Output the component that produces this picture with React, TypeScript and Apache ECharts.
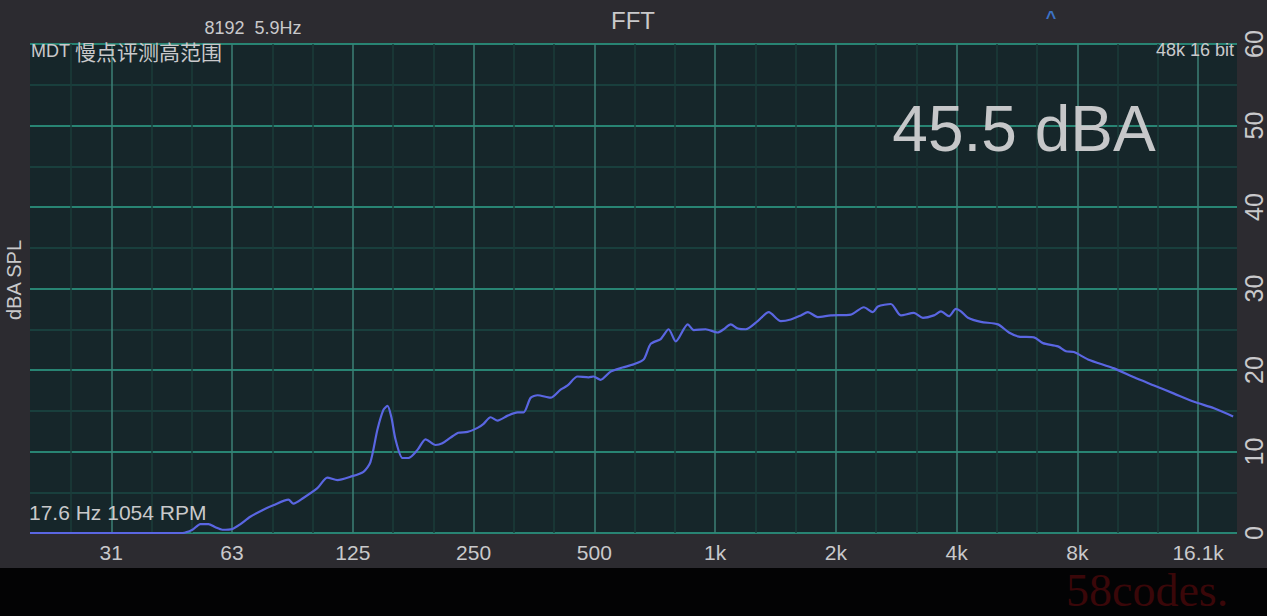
import React, { useEffect, useRef } from "react";
import * as echarts from "echarts";

// Spectrum (Hz, dBA)
const freqs = [
  19.6, 47, 49.8, 52.1, 54.6, 56.8, 59.1, 62.6, 65.6, 69.4, 74.4, 79.2, 86.4, 88.9, 94.1,
  102, 108, 114.5, 123.3, 132.9, 138.3, 144, 149, 152.5, 156, 159.7, 166.3, 172, 181.2,
  189.8, 201, 209, 219, 229, 241.5, 255.8, 264.8, 275.6, 287, 304, 322, 333, 347, 361,
  389, 412, 429, 454, 484, 498, 518, 549, 588, 627, 664, 691, 732, 766, 798, 855, 885,
  947, 1015, 1051, 1094, 1139, 1193, 1277, 1361, 1458, 1544, 1636, 1703, 1803, 1944,
  2180, 2349, 2473, 2546, 2743, 2904, 3130, 3297, 3512, 3656, 3827, 3984, 4101, 4269,
  4599, 5071, 5401, 5720, 6237, 6566, 7157, 7493, 7845, 8503, 9876, 11075, 12424,
  13937, 15636, 17534, 19560,
];
const levels = [
  0, 0, 0.4, 1.1, 1.1, 0.7, 0.4, 0.5, 1.1, 2.0, 2.8, 3.4, 4.1, 3.6, 4.3,
  5.5, 6.8, 6.5, 6.9, 7.5, 8.7, 12.7, 15.1, 15.6, 14.2, 11.5, 9.2, 9.2, 10.2,
  11.5, 10.8, 11.0, 11.7, 12.3, 12.4, 12.9, 13.4, 14.2, 13.8, 14.4, 14.8, 14.8, 16.6, 16.9,
  16.6, 17.6, 18.1, 19.2, 19.1, 19.2, 18.8, 19.8, 20.3, 20.7, 21.3, 23.2, 23.8, 25.0, 23.5, 25.6, 24.9,
  25.0, 24.6, 25.0, 25.6, 25.1, 25.0, 26.0, 27.1, 26.0, 26.2, 26.7, 27.1, 26.5, 26.7,
  26.8, 27.7, 27.1, 27.8, 28.1, 26.7, 27.0, 26.4, 26.7, 27.2, 26.6, 27.5, 27.2, 26.4,
  25.9, 25.6, 24.6, 24.1, 24.0, 23.3, 22.9, 22.3, 22.2, 21.3, 20.2, 19.1, 18.1,
  17.1, 16.1, 15.3, 14.3,
];

// Octave grid lines with labels, third-octave grid lines
const octaveFreqs = [31.25, 62.5, 125, 250, 500, 1000, 2000, 4000, 8000, 16000];
const octaveLabels = ["31", "63", "125", "250", "500", "1k", "2k", "4k", "8k", "16.1k"];
const thirdOctaveFreqs = [
  24.8, 39.37, 49.61, 78.75, 99.21, 157.5, 198.4, 315, 396.9, 630, 793.7, 1260, 1587,
  2520, 3175, 5040, 6350, 10079, 12699,
];

const FONT = '"Liberation Sans", Arial, Helvetica, sans-serif';
const TXT = "#c9c9cb";

export default function App() {
  const ref = useRef<HTMLDivElement>(null);
  useEffect(() => {
    document.body.style.margin = "0";
    const chart = echarts.init(ref.current!, null, { renderer: "svg" });
    const data = freqs.map((f, i) => [f, levels[i]]);
    chart.setOption({
      animation: false,
      backgroundColor: "#2c2b30",
      grid: {
        left: 30,
        right: 30,
        top: 44,
        bottom: 83,
        show: true,
        backgroundColor: "#16262a",
        borderWidth: 0,
      },
      xAxis: {
        type: "log",
        logBase: 2,
        min: 19.6,
        max: 20000,
        axisLine: { show: false },
        axisTick: { show: false },
        axisLabel: { show: false },
        splitLine: { show: false },
      },
      yAxis: {
        type: "value",
        position: "right",
        min: 0,
        max: 60,
        interval: 10,
        axisLine: { show: false },
        axisTick: { show: false },
        axisLabel: {
          rotate: 90,
          margin: 4,
          color: TXT,
          fontSize: 25,
          fontFamily: FONT,
        },
        splitLine: { show: true, lineStyle: { color: "#288473", width: 2 } },
        minorTick: { show: false, splitNumber: 2 },
        minorSplitLine: { show: true, lineStyle: { color: "#1b4944", width: 1.5 } },
      },
      series: [
        {
          type: "line",
          data,
          silent: true,
          showSymbol: false,
          z: 1,
          lineStyle: { opacity: 0 },
          markLine: {
            silent: true,
            symbol: "none",
            label: { show: false },
            lineStyle: { color: "#1b3d3a", width: 1.5, type: "solid" },
            data: thirdOctaveFreqs.map((f) => ({ xAxis: f })),
          },
        },
        {
          type: "line",
          data,
          silent: true,
          showSymbol: false,
          z: 1,
          lineStyle: { opacity: 0 },
          markLine: {
            silent: true,
            symbol: "none",
            lineStyle: { color: "#3c8076", width: 1.5, type: "solid" },
            label: {
              show: true,
              position: "start",
              distance: 9,
              formatter: "{b}",
              color: TXT,
              fontSize: 21,
              fontFamily: FONT,
            },
            data: octaveFreqs.map((f, i) => ({ xAxis: f, name: octaveLabels[i] })),
          },
        },
        {
          type: "line",
          data,
          smooth: 0.25,
          showSymbol: false,
          z: 5,
          lineStyle: { color: "#5a66e2", width: 2.2 },
        },
      ],
      graphic: [
        {
          type: "rect",
          z: 0,
          shape: { x: 0, y: 568, width: 1267, height: 48 },
          style: { fill: "#030304" },
        },
        {
          type: "text",
          z: 100,
          x: 633,
          y: 20,
          style: { text: "FFT", fill: TXT, font: `24px ${FONT}`, align: "center", verticalAlign: "middle" },
        },
        {
          type: "text",
          z: 100,
          x: 253,
          y: 28,
          style: { text: "8192  5.9Hz", fill: TXT, font: `18px ${FONT}`, align: "center", verticalAlign: "middle" },
        },
        {
          type: "text",
          z: 100,
          x: 1051,
          y: 18,
          style: { text: "^", fill: "#3c72c4", font: `bold 18px ${FONT}`, align: "center", verticalAlign: "middle" },
        },
        {
          type: "text",
          z: 100,
          x: 31,
          y: 51,
          style: {
            text: "{a|MDT }{b|慢点评测高范围}",
            fill: TXT,
            align: "left",
            verticalAlign: "middle",
            rich: {
              a: { fontSize: 18, fontFamily: FONT, fill: TXT },
              b: { fontSize: 21, fontFamily: '"Noto Sans CJK SC", sans-serif', fill: TXT },
            },
          },
        },
        {
          type: "text",
          z: 100,
          x: 1234,
          y: 50,
          style: { text: "48k 16 bit", fill: TXT, font: `18px ${FONT}`, align: "right", verticalAlign: "middle" },
        },
        {
          type: "text",
          z: 100,
          x: 1024,
          y: 129,
          style: { text: "45.5 dBA", fill: "#c6c7c9", font: `64px ${FONT}`, align: "center", verticalAlign: "middle" },
        },
        {
          type: "text",
          z: 100,
          x: 29,
          y: 512,
          style: { text: "17.6 Hz 1054 RPM", fill: TXT, font: `21px ${FONT}`, align: "left", verticalAlign: "middle" },
        },
        {
          type: "text",
          z: 100,
          x: 14,
          y: 280,
          rotation: Math.PI / 2,
          style: { text: "dBA SPL", fill: TXT, font: `20px ${FONT}`, align: "center", verticalAlign: "middle" },
        },
        {
          type: "text",
          z: 100,
          x: 1066,
          y: 590,
          style: {
            text: "58codes.",
            fill: "#3a0709",
            font: `46px "Liberation Serif", "Times New Roman", serif`,
            align: "left",
            verticalAlign: "middle",
          },
        },
      ],
    });
    return () => chart.dispose();
  }, []);
  return <div ref={ref} style={{ width: 1267, height: 616 }} />;
}
